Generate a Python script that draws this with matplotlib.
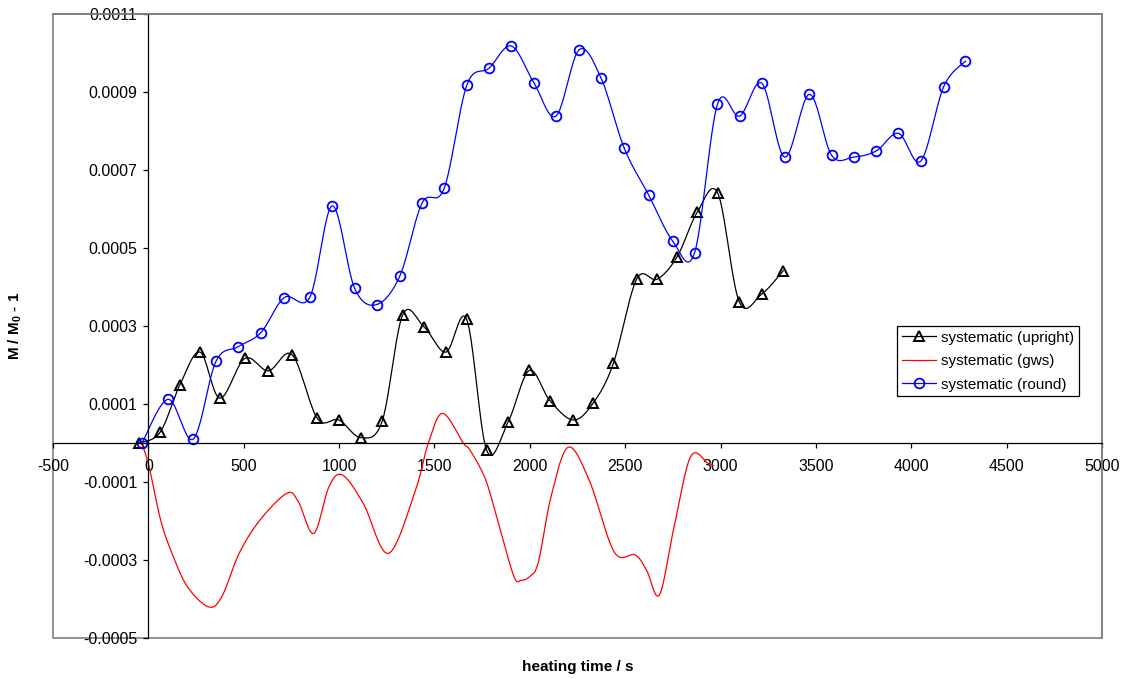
#%% Imports
import numpy as np
import matplotlib
matplotlib.use('Agg')
import matplotlib.pyplot as plt
from matplotlib.patches import Rectangle
from matplotlib.ticker import FixedLocator, FuncFormatter

# Params:
_FONT     = 'Liberation Sans'
x_range   = (-500, 5000)        # s
y_range   = (-0.0005, 0.0011)   # M/M0 - 1

plt.rcParams['font.family'] = [_FONT, 'DejaVu Sans']
plt.rcParams['mathtext.fontset'] = 'custom'
plt.rcParams['mathtext.rm'] = _FONT
plt.rcParams['mathtext.bf'] = _FONT + ':bold'

#%% Data
# systematic (upright)
t_upright = [-50, 61, 166, 271, 375, 506, 629, 754, 886, 999, 1113, 1226, 1333, 1445,
             1560, 1669, 1774, 1887, 1997, 2106, 2228, 2333, 2438, 2560, 2668, 2773,
             2878, 2986, 3098, 3216, 3329]
m_upright = [0.0, 0.27e-4, 1.50e-4, 2.33e-4, 1.15e-4, 2.17e-4, 1.85e-4, 2.26e-4, 0.63e-4,
             0.59e-4, 0.14e-4, 0.56e-4, 3.28e-4, 2.98e-4, 2.33e-4, 3.17e-4, -0.19e-4,
             0.55e-4, 1.86e-4, 1.08e-4, 0.59e-4, 1.03e-4, 2.04e-4, 4.20e-4, 4.20e-4,
             4.78e-4, 5.92e-4, 6.40e-4, 3.62e-4, 3.82e-4, 4.42e-4]

# systematic (gws)
t_gws = [-35, 4, 64, 124, 204, 315, 385, 476, 586, 726, 786, 867, 947, 1017, 1127, 1258,
         1398, 1468, 1543, 1651, 1686, 1765, 1826, 1915, 1955, 2000, 2045, 2111, 2201,
         2311, 2442, 2552, 2612, 2679, 2753, 2843, 2934, 2963]
m_gws = [0.0, -0.61e-4, -1.97e-4, -2.83e-4, -3.68e-4, -4.20e-4, -3.94e-4, -2.83e-4,
         -1.97e-4, -1.29e-4, -1.50e-4, -2.32e-4, -1.12e-4, -0.82e-4, -1.55e-4, -2.83e-4,
         -1.25e-4, 0.0, 0.76e-4, 0.0, -0.18e-4, -0.90e-4, -1.89e-4, -3.40e-4, -3.52e-4,
         -3.42e-4, -3.05e-4, -1.38e-4, -0.11e-4, -0.95e-4, -2.79e-4, -2.87e-4, -3.26e-4,
         -3.90e-4, -2.23e-4, -0.35e-4, -0.52e-4, -0.58e-4]

# systematic (round)
t_round = [-33, 104, 235, 354, 471, 590, 713, 847, 964, 1081, 1197, 1319, 1435, 1551,
           1670, 1786, 1903, 2021, 2137, 2258, 2374, 2495, 2623, 2749, 2864, 2984, 3100,
           3217, 3337, 3466, 3582, 3698, 3817, 3933, 4050, 4170, 4284]
m_round = [0.0, 1.12e-4, 0.10e-4, 2.09e-4, 2.47e-4, 2.83e-4, 3.73e-4, 3.74e-4, 6.08e-4,
           3.97e-4, 3.55e-4, 4.29e-4, 6.15e-4, 6.53e-4, 9.18e-4, 9.61e-4, 10.18e-4,
           9.24e-4, 8.38e-4, 10.08e-4, 9.35e-4, 7.56e-4, 6.36e-4, 5.18e-4, 4.88e-4,
           8.69e-4, 8.38e-4, 9.22e-4, 7.33e-4, 8.94e-4, 7.38e-4, 7.33e-4, 7.49e-4,
           7.94e-4, 7.23e-4, 9.14e-4, 9.79e-4]

x_ticks = np.arange(-500, 5001, 500)
y_ticks = [-0.0005, -0.0003, -0.0001, 0.0001, 0.0003, 0.0005, 0.0007, 0.0009, 0.0011]


def smooth(x, y, n=24):
    """Catmull-Rom curve through the points (like Excel's smoothed line)."""
    x = np.asarray(x, float)
    y = np.asarray(y, float)
    px = np.r_[x[0], x, x[-1]]
    py = np.r_[y[0], y, y[-1]]
    t = np.linspace(0, 1, n)[:, None]
    out_x, out_y = [], []
    for i in range(1, len(px) - 2):
        for p, out in ((px, out_x), (py, out_y)):
            p0, p1, p2, p3 = p[i - 1], p[i], p[i + 1], p[i + 2]
            c = 0.5 * (2 * p1 + (-p0 + p2) * t + (2 * p0 - 5 * p1 + 4 * p2 - p3) * t ** 2
                       + (-p0 + 3 * p1 - 3 * p2 + p3) * t ** 3)
            out.append(c[:, 0] if i == 1 else c[1:, 0])
    return np.concatenate(out_x), np.concatenate(out_y)


#%% Figure
fig = plt.figure(figsize=(11.28, 6.79), dpi=100)
ax = fig.add_axes([53 / 1128, 1 - 638 / 679, 1049 / 1128, 624 / 679])

sx, sy = smooth(t_upright, m_upright)
ax.plot(sx, sy, color='black', lw=0.9)
ax.plot(t_upright, m_upright, ls='none', marker='^', ms=7.5, mfc='none', mec='black', mew=1.4)

sx, sy = smooth(t_gws, m_gws)
ax.plot(sx, sy, color='#FF0000', lw=0.9)

sx, sy = smooth(t_round, m_round)
ax.plot(sx, sy, color='#0000FF', lw=0.9)
ax.plot(t_round, m_round, ls='none', marker='o', ms=7, mfc='none', mec='#0000FF', mew=1.3)

# legend proxies
ax.plot([], [], color='black', lw=0.9, marker='^', ms=7, mfc='none', mew=1.4,
        label='systematic (upright)')
ax.plot([], [], color='#FF0000', lw=0.9, label='systematic (gws)')
ax.plot([], [], color='#0000FF', lw=0.9, marker='o', ms=7, mfc='none', mew=1.3,
        label='systematic (round)')

ax.set_xlim(*x_range)
ax.set_ylim(*y_range)

# axes cross at zero, outer plot-area border in grey
for side in ('top', 'right'):
    ax.spines[side].set_color('#808080')
    ax.spines[side].set_linewidth(1.2)
ax.spines['left'].set_position(('data', 0))
ax.spines['bottom'].set_position(('data', 0))
for side in ('left', 'bottom'):
    ax.spines[side].set_color('black')
    ax.spines[side].set_linewidth(0.9)
ax.add_patch(Rectangle((0, 0), 1, 1, transform=ax.transAxes, fill=False,
                       ec='#808080', lw=1.2, clip_on=False, zorder=0))

ax.xaxis.set_major_locator(FixedLocator(x_ticks))
ax.yaxis.set_major_locator(FixedLocator(y_ticks))
ax.xaxis.set_major_formatter(FuncFormatter(lambda v, p: f'{v:.0f}'))
ax.yaxis.set_major_formatter(FuncFormatter(lambda v, p: f'{v:.4f}'))
ax.tick_params(axis='both', direction='out', length=3.6, width=0.9, labelsize=11.5,
               labelcolor='black')
ax.tick_params(axis='x', pad=8)
ax.tick_params(axis='y', pad=4.5)

ax.set_xlabel('heating time / s', fontsize=11, fontweight='bold')
ax.set_ylabel(r'M / M$_\mathbf{0}$ - 1', fontsize=11, fontweight='bold')
ax.xaxis.set_label_coords(0.5, -0.036)
ax.yaxis.set_label_coords(-0.028, 0.5)

leg = ax.legend(loc='upper left', bbox_to_anchor=(0.805, 0.5), fontsize=11,
                frameon=True, fancybox=False, framealpha=1, edgecolor='black',
                handlelength=2.2, handletextpad=0.35, labelspacing=0.62,
                borderpad=0.3, borderaxespad=0)
leg.get_frame().set_linewidth(0.9)

fig.savefig('out.png', dpi=100)
